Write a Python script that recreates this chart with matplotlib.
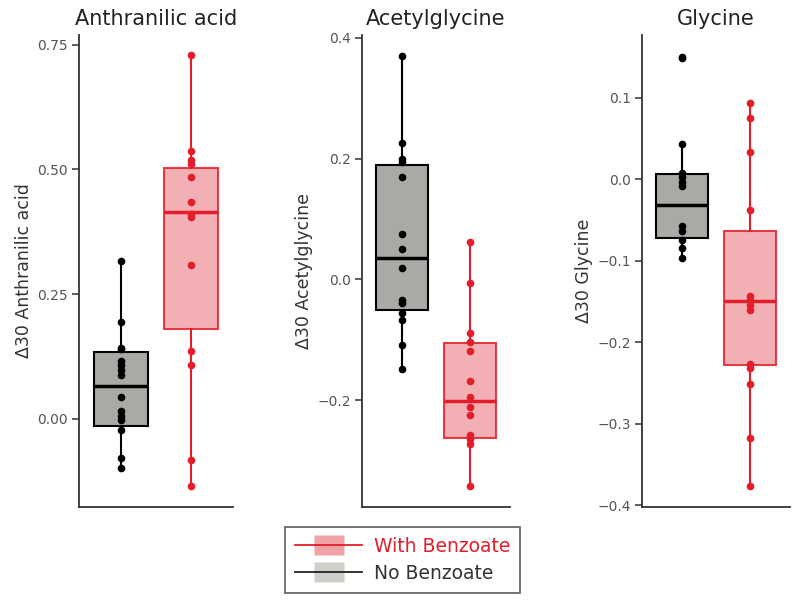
import numpy as np
import matplotlib
matplotlib.use("Agg")
import matplotlib.pyplot as plt
from matplotlib.lines import Line2D
from matplotlib.legend_handler import HandlerTuple

# values
titles = ["Anthranilic acid", "Acetylglycine", "Glycine"]
ylabels = ["\u039430 Anthranilic acid", "\u039430 Acetylglycine", "\u039430 Glycine"]

no_benz = [
    [0.317, 0.195, 0.142, 0.139, 0.115, 0.108, 0.098, 0.088, 0.044, 0.015,
     0.005, -0.003, -0.022, -0.079, -0.099],
    [0.370, 0.225, 0.200, 0.194, 0.169, 0.075, 0.050, 0.018, -0.035, -0.039,
     -0.056, -0.068, -0.109, -0.148],
    [0.150, 0.148, 0.043, 0.007, 0.003, -0.004, -0.009, -0.058, -0.064,
     -0.074, -0.085, -0.097],
]
with_benz = [
    [0.729, 0.537, 0.518, 0.510, 0.485, 0.434, 0.410, 0.405, 0.308, 0.135,
     0.107, -0.082, -0.135],
    [0.062, -0.006, -0.089, -0.103, -0.119, -0.169, -0.195, -0.211, -0.225,
     -0.258, -0.265, -0.272, -0.343],
    [0.093, 0.075, 0.033, -0.038, -0.143, -0.148, -0.154, -0.160, -0.227,
     -0.231, -0.251, -0.317, -0.376],
]
# box stats: (whislo, q1, med, q3, whishi)
no_stats = [
    (-0.099, -0.014, 0.066, 0.134, 0.317),
    (-0.148, -0.050, 0.035, 0.189, 0.370),
    (-0.097, -0.072, -0.032, 0.006, 0.043),
]
with_stats = [
    (-0.135, 0.180, 0.415, 0.503, 0.729),
    (-0.343, -0.262, -0.201, -0.106, 0.062),
    (-0.376, -0.228, -0.150, -0.063, 0.093),
]
yticks = [[0.0, 0.25, 0.5, 0.75], [-0.2, 0.0, 0.2, 0.4],
          [-0.4, -0.3, -0.2, -0.1, 0.0, 0.1]]
yticklabels = [["0.00", "0.25", "0.50", "0.75"], ["\u22120.2", "0.0", "0.2", "0.4"],
               ["\u22120.4", "\u22120.3", "\u22120.2", "\u22120.1", "0.0", "0.1"]]
ylims = [(-0.177, 0.77), (-0.377, 0.405), (-0.402, 0.177)]

red = "#e31e2a"
pink = "#f0a2a7"
grey = "#a9a9a5"

plt.rcParams['font.family'] = ['DejaVu Sans']

fig = plt.figure(figsize=(8, 6), dpi=100)
lefts = [0.099, 0.4525, 0.8025]
widths = [0.192, 0.185, 0.185]

for i in range(3):
    ax = fig.add_axes([lefts[i], 0.155, widths[i], 0.787])
    for pos, st, vals, ec, fc in [(1, no_stats[i], no_benz[i], "black", grey),
                                  (2, with_stats[i], with_benz[i], red, pink)]:
        d = dict(whislo=st[0], q1=st[1], med=st[2], q3=st[3], whishi=st[4], fliers=[])
        ax.bxp([d], positions=[pos], widths=0.77, patch_artist=True, showcaps=False,
               boxprops=dict(facecolor=fc, edgecolor=ec, linewidth=1.5,
                             alpha=1.0 if ec == "black" else 0.85),
               medianprops=dict(color=ec, linewidth=2.5),
               whiskerprops=dict(color=ec, linewidth=1.5))
        ax.plot([pos] * len(vals), vals, "o", color=ec, markersize=5.5,
                markeredgewidth=0, zorder=5)
    ax.set_xlim(0.4, 2.6)
    ax.set_ylim(*ylims[i])
    ax.set_yticks(yticks[i])
    ax.set_yticklabels(yticklabels[i])
    ax.set_xticks([])
    ax.spines['top'].set_visible(False)
    ax.spines['right'].set_visible(False)
    for s in ['left', 'bottom']:
        ax.spines[s].set_color("#333333")
        ax.spines[s].set_linewidth(1.3)
    ax.tick_params(axis='y', colors="#333333", labelcolor="#555555",
                   labelsize=10, length=5, width=1.1, pad=3)
    ax.set_ylabel(ylabels[i], fontsize=12.5, color="#333333", labelpad=3)
    ax.set_title(titles[i], fontsize=15, color="#222222", pad=7)

rect = [(-1.6, -1), (1.6, -1), (1.6, 1), (-1.6, 1), (-1.6, -1)]
h_with = (Line2D([], [], linestyle='none', marker=rect, markersize=22,
                 markerfacecolor=pink, markeredgecolor='none'),
          Line2D([], [], color=red, linewidth=1.3))
h_no = (Line2D([], [], linestyle='none', marker=rect, markersize=22,
               markerfacecolor="#cfcfca", markeredgecolor='none'),
        Line2D([], [], color="#222222", linewidth=1.3))
leg = fig.legend([h_with, h_no], ["With Benzoate", "No Benzoate"],
                 handler_map={tuple: HandlerTuple(ndivide=1)},
                 loc='center', bbox_to_anchor=(0.503, 0.067), fontsize=13.5,
                 frameon=True, fancybox=False, edgecolor="#333333",
                 handlelength=3.6, handletextpad=0.6, borderpad=0.55,
                 labelspacing=0.4, borderaxespad=0)
leg.get_frame().set_linewidth(1.2)
leg.get_texts()[0].set_color(red)
leg.get_texts()[1].set_color("#333333")

fig.savefig("out.png", dpi=100)
